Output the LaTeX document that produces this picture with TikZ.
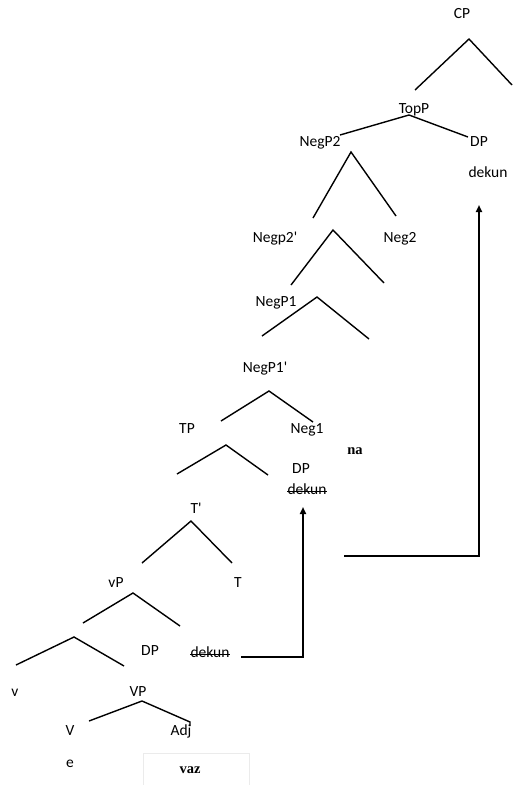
\documentclass[tikz,border=0pt]{standalone}
\usepackage{fontspec}
\setmainfont{Carlito}[Ligatures=TeXOff]
\newfontfamily\serifx{Liberation Serif}
\usetikzlibrary{arrows.meta}
\begin{document}
\begin{tikzpicture}[x=1pt,y=-1pt,
  lab/.style={inner sep=0pt, anchor=base, font=\fontsize{15.5}{18}\selectfont},
  serlab/.style={inner sep=0pt, anchor=base, font=\serifx\bfseries\fontsize{14.5}{16}\selectfont},
  branch/.style={line width=1.4pt, black},
  strike/.style={line width=0.8pt, black},
  mover/.style={line width=1.8pt, black, -{Triangle[length=7pt,width=6pt]}},
  vazbox/.style={draw=black!8, line width=0.6pt}
]
\useasboundingbox (0,0) rectangle (512,785);

% labels
\node[lab] (cp) at (462,18) {CP};
\node[lab] (topp) at (414,113) {TopP};
\node[lab] (dpt) at (479,146) {DP};
\node[lab] (dkt) at (488,177) {dekun};
\node[lab] (negp2) at (320,146) {NegP2};
\node[lab] (negp2b) at (275,242) {Negp2'};
\node[lab] (neg2) at (400,242) {Neg2};
\node[lab] (negp1) at (276,306) {NegP1};
\node[lab] (negp1b) at (265,372) {NegP1'};
\node[lab] (tp) at (187,433) {TP};
\node[lab] (neg1) at (307,433) {Neg1};
\node[serlab] (na) at (355,454) {na};
\node[lab] (dpm) at (301,473) {DP};
\node[lab] (dkm) at (307,494) {dekun};
\node[lab] (tbar) at (196,513) {T'};
\node[lab] (vp) at (116,587) {vP};
\node[lab] (t) at (238,587) {T};
\node[lab] (dpl) at (150,655) {DP};
\node[lab] (dkl) at (210,657) {dekun};
\node[lab] (vsmall) at (15,696) {v};
\node[lab] (vbig) at (138,696) {VP};
\node[lab] (vhead) at (70,735) {V};
\node[lab] (adj) at (181,735) {Adj};
\node[lab] (e) at (70,767) {e};
\node[vazbox, minimum width=106pt, minimum height=34pt] (box) at (196,770) {};
\node[serlab] (vaz) at (190,773) {vaz};

% strikethroughs
\draw[strike] ([yshift=3pt]dkm.base west) -- ([yshift=3pt]dkm.base east);
\draw[strike] ([yshift=3pt]dkl.base west) -- ([yshift=3pt]dkl.base east);

% branch points
\coordinate (b1l) at (415,90);  \coordinate (b1a) at (469,39);  \coordinate (b1r) at (512,85);
\coordinate (b2l) at (340,135); \coordinate (b2a) at (409,115); \coordinate (b2r) at (468,137);
\coordinate (b3l) at (313,218); \coordinate (b3a) at (351,152); \coordinate (b3r) at (396,216);
\coordinate (b4l) at (291,285); \coordinate (b4a) at (333,230); \coordinate (b4r) at (384,283);
\coordinate (b5l) at (262,336); \coordinate (b5a) at (317,297); \coordinate (b5r) at (369,339);
\coordinate (b6l) at (221,421); \coordinate (b6a) at (269,391); \coordinate (b6r) at (313,422);
\coordinate (b7l) at (177,474); \coordinate (b7a) at (226,445); \coordinate (b7r) at (268,475);
\coordinate (b8l) at (142,563); \coordinate (b8a) at (191,521); \coordinate (b8r) at (232,563);
\coordinate (b9l) at (83,623);  \coordinate (b9a) at (133,593); \coordinate (b9r) at (180,626);
\coordinate (b10l) at (16,665); \coordinate (b10a) at (74,637); \coordinate (b10r) at (124,666);
\coordinate (b11l) at (89,721); \coordinate (b11a) at (142,701); \coordinate (b11r) at (190,722);
\coordinate (b11t) at (190,726);

\foreach \i in {1,...,10} {
  \draw[branch] (b\i l) -- (b\i a) -- (b\i r);
}
\draw[branch] (b11l) -- (b11a) -- (b11r) -- (b11t);

% movement arrows
\coordinate (m1s) at (241,657); \coordinate (m1e) at (303,507);
\coordinate (m2s) at (344,556); \coordinate (m2e) at (479,205);
\draw[mover] (m1s) -| (m1e);
\draw[mover] (m2s) -| (m2e);
\end{tikzpicture}
\end{document}
